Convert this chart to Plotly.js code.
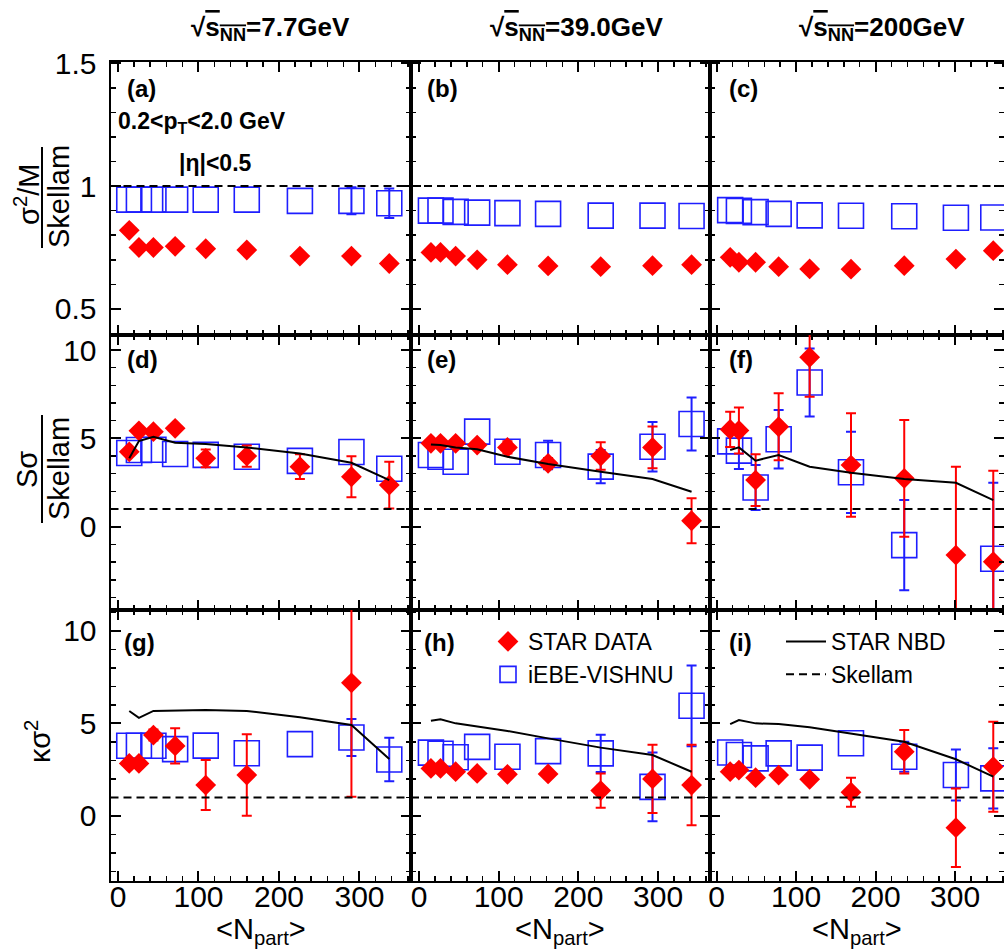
<!DOCTYPE html>
<html><head><meta charset="utf-8">
<script src="https://cdn.plot.ly/plotly-3.0.1.min.js"></script>
<style>html,body{margin:0;padding:0;background:#fff;} #chart{width:1004px;height:952px;}</style>
</head><body><div id="chart"></div>
<script>
// ---------------- DATA ----------------
const energyLabels = ['7.7', '39.0', '200'];
const panelLetters = ['a', 'b', 'c', 'd', 'e', 'f', 'g', 'h', 'i'];

// <Npart> per centrality bin
const npart_7p7 = [14, 26, 44, 71, 109, 160, 226, 290, 337];
const npart_39  = [15, 27, 46, 73, 111, 162, 228, 293, 342];
const npart_200 = [17, 28, 49, 78, 117, 169, 236, 301, 348];

// Skellam baseline
const skellamLevel = 1;

// Row 1: (sigma^2/M) / Skellam
const r1_star_7p7 = [0.82, 0.75, 0.75, 0.755, 0.745, 0.74, 0.715, 0.715, 0.685];
const r1_star_39  = [0.73, 0.73, 0.715, 0.70, 0.68, 0.675, 0.672, 0.676, 0.68];
const r1_star_200 = [0.71, 0.69, 0.69, 0.672, 0.663, 0.662, 0.676, 0.703, 0.737];
const r1_vishnu_7p7 = [0.945, 0.945, 0.945, 0.945, 0.945, 0.945, 0.94, 0.94, 0.93];
const r1_vishnu_39  = [0.90, 0.90, 0.895, 0.892, 0.89, 0.887, 0.88, 0.88, 0.878];
const r1_vishnu_200 = [0.902, 0.899, 0.894, 0.887, 0.881, 0.879, 0.877, 0.871, 0.872];
const r1_vishnu_err_7p7 = [null, null, null, null, null, null, null, 0.055, 0.06];

// Row 2: S sigma / Skellam
const r2_star_7p7 = [4.24, 5.43, 5.38, 5.57, 3.87, 4.0, 3.40, 2.83, 2.36];
const r2_star_err_7p7 = [null, null, null, null, 0.5, 0.6, 0.7, 1.16, 1.32];
const r2_star_39 = [4.72, 4.72, 4.72, 4.62, 4.49, 3.59, 4.0, 4.49, 0.34];
const r2_star_err_39 = [null, null, null, null, 0.35, 0.3, 0.78, 1.18, 1.27];
const r2_star_200 = [5.51, 5.45, 2.64, 5.66, 9.59, 3.49, 2.74, -1.60, -1.98];
const r2_star_err_200 = [1.0, 1.3, 1.46, 1.9, 2.23, 2.93, 3.3, 5.0, 5.15];
const r2_vishnu_7p7 = [4.17, 4.34, 4.36, 4.12, 4.07, 3.96, 3.73, 4.23, 3.28];
const r2_vishnu_39  = [4.06, 3.96, 3.68, 5.38, 4.24, 4.06, 3.40, 4.53, 5.81];
const r2_vishnu_err_39 = [null, null, null, null, null, 0.8, 0.94, 1.4, 1.5];
const r2_vishnu_200 = [4.83, 4.31, 2.22, 4.95, 8.16, 3.08, -1.04, null, -1.81];
const r2_vishnu_err_200 = [null, 1.04, 1.27, 1.65, 1.92, 2.3, 2.55, null, 4.3];
const r2_nbd_7p7 = [3.87, 4.85, 5.09, 4.75, 4.68, 4.49, 4.15, 3.62, 2.64];
const r2_nbd_39  = [4.66, 4.62, 4.49, 4.38, 3.96, 3.55, 3.11, 2.70, 1.98];
const r2_nbd_200 = [4.34, 4.49, 3.74, 4.06, 3.40, 3.06, 2.70, 2.49, 1.51];

// Row 3: kappa sigma^2
const r3_star_7p7 = [2.84, 2.84, 4.37, 3.78, 1.67, 2.21, null, 7.19, null];
const r3_star_err_7p7 = [null, null, 0.3, 0.95, 1.35, 2.2, null, 6.15, null];
const r3_star_39 = [2.57, 2.57, 2.39, 2.30, 2.25, 2.27, 1.37, 2.0, 1.67];
const r3_star_err_39 = [null, null, null, null, null, null, 0.92, 1.84, 2.17];
const r3_star_200 = [2.39, 2.48, 2.07, 2.21, 1.98, 1.28, 3.47, -0.63, 2.66];
const r3_star_err_200 = [null, null, null, null, null, 0.78, 1.17, 2.12, 2.43];
const r3_vishnu_7p7 = [3.79, 3.79, 3.79, 3.61, 3.80, 3.39, 3.88, 4.24, 3.05];
const r3_vishnu_err_7p7 = [null, null, null, null, null, null, null, 1.0, 1.18];
const r3_vishnu_39 = [3.42, 3.36, 3.17, 3.73, 3.20, 3.50, 3.38, 1.57, 5.95];
const r3_vishnu_err_39 = [null, null, null, null, null, null, 1.0, 1.86, 2.18];
const r3_vishnu_200 = [3.43, 3.29, 3.11, 3.38, 3.15, 3.93, 3.20, 2.21, 2.03];
const r3_vishnu_err_200 = [null, null, null, null, null, null, 0.81, 1.38, 1.63];
const r3_nbd_7p7 = [5.67, 5.30, 5.67, 5.69, 5.72, 5.67, 5.33, 4.91, 3.08];
const r3_nbd_39  = [5.14, 5.22, 5.00, 4.82, 4.59, 4.19, 3.69, 3.29, 2.39];
const r3_nbd_200 = [4.96, 5.18, 5.00, 4.96, 4.79, 4.46, 4.01, 3.06, 2.12];

// ---------------- ASSEMBLY ----------------
const npart = [npart_7p7, npart_39, npart_200];
const star = [[r1_star_7p7, r1_star_39, r1_star_200], [r2_star_7p7, r2_star_39, r2_star_200], [r3_star_7p7, r3_star_39, r3_star_200]];
const starErr = [[null, null, null], [r2_star_err_7p7, r2_star_err_39, r2_star_err_200], [r3_star_err_7p7, r3_star_err_39, r3_star_err_200]];
const vishnu = [[r1_vishnu_7p7, r1_vishnu_39, r1_vishnu_200], [r2_vishnu_7p7, r2_vishnu_39, r2_vishnu_200], [r3_vishnu_7p7, r3_vishnu_39, r3_vishnu_200]];
const vishnuErr = [[r1_vishnu_err_7p7, null, null], [null, r2_vishnu_err_39, r2_vishnu_err_200], [r3_vishnu_err_7p7, r3_vishnu_err_39, r3_vishnu_err_200]];
const nbd = [null, [r2_nbd_7p7, r2_nbd_39, r2_nbd_200], [r3_nbd_7p7, r3_nbd_39, r3_nbd_200]];

const FONT = 'Liberation Sans, Arial, Helvetica, sans-serif';
const W = 1004, H = 952;
const fx = p => p / W, fy = p => 1 - p / H;
const RED = '#ff0000', BLUE = 'rgb(30,30,255)';

const colPx = [[110.5, 411], [411, 709.5], [709.5, 1004]];
const rowPx = [[62, 335], [335, 610], [610, 881]];
const xRanges = [[-9.3, 364], [-10, 364.5], [-9, 361.5]];
const yRanges = [[0.394, 1.505], [-4.71, 10.85], [-3.51, 11.12]];
const yDtick = [0.5, 5, 5], yMinor = [0.1, 1, 1];

function errObj(arr, color) {
  if (!arr) return {visible: false};
  return {type: 'data', array: arr.map(v => v == null ? NaN : v), visible: true,
          color: color, thickness: 2, width: 5};
}

const traces = [];
const layout = {
  width: W, height: H, margin: {l: 0, r: 0, t: 0, b: 0, pad: 0},
  paper_bgcolor: '#fff', plot_bgcolor: 'rgba(0,0,0,0)',
  font: {family: FONT, color: '#000'},
  showlegend: true,
  legend: {x: fx(488), y: fy(620), xanchor: 'left', yanchor: 'top', bgcolor: 'rgba(0,0,0,0)',
           borderwidth: 0, font: {size: 23, family: FONT, color: '#000'}, tracegroupgap: 0, traceorder: 'normal'},
  legend2: {x: fx(781), y: fy(620), xanchor: 'left', yanchor: 'top', bgcolor: 'rgba(0,0,0,0)',
            borderwidth: 0, font: {size: 23, family: FONT, color: '#000'}, tracegroupgap: 0, itemwidth: 40, traceorder: 'normal'},
  shapes: [], annotations: []
};

const axisCommon = {
  showline: true, linecolor: '#000', linewidth: 2, mirror: 'allticks',
  ticks: 'inside', ticklen: 10, tickwidth: 2, tickcolor: '#000',
  showgrid: false, zeroline: false, fixedrange: true,
  tickfont: {size: 30, family: FONT, color: '#000'}
};

for (let r = 0; r < 3; r++) {
  for (let c = 0; c < 3; c++) {
    const k = r * 3 + c;
    const sfx = k === 0 ? '' : String(k + 1);
    const xa = 'x' + sfx, ya = 'y' + sfx;
    layout['xaxis' + sfx] = Object.assign({}, axisCommon, {
      domain: [fx(colPx[c][0]), fx(colPx[c][1])], range: xRanges[c], anchor: ya,
      tick0: 0, dtick: 100, showticklabels: r === 2, ticklabelstandoff: -12,
      minor: {ticks: 'inside', ticklen: 5, tickwidth: 1.5, tickcolor: '#000', dtick: 20, showgrid: false}
    });
    layout['yaxis' + sfx] = Object.assign({}, axisCommon, {
      domain: [fy(rowPx[r][1]), fy(rowPx[r][0])], range: yRanges[r], anchor: xa,
      tick0: 0, dtick: yDtick[r], showticklabels: c === 0, ticklabelstandoff: 6,
      minor: {ticks: 'inside', ticklen: 5, tickwidth: 1.5, tickcolor: '#000', dtick: yMinor[r], showgrid: false}
    });

    // Skellam baseline (dashed)
    layout.shapes.push({type: 'line', xref: xa + ' domain', x0: 0, x1: 1, yref: ya, y0: skellamLevel, y1: skellamLevel,
                        line: {color: '#000', width: 2, dash: '8px,5px'}, layer: 'above'});

    traces.push({type: 'scatter', mode: 'markers', name: 'iEBE-VISHNU', x: npart[c], y: vishnu[r][c],
      xaxis: xa, yaxis: ya, legend: 'legend', legendrank: 2, showlegend: k === 7,
      marker: {symbol: 'square-open', size: 25, color: BLUE, line: {width: 1.6, color: BLUE}},
      error_y: errObj(vishnuErr[r][c], BLUE), hoverinfo: 'skip'});
    traces.push({type: 'scatter', mode: 'markers', name: 'STAR DATA', x: npart[c], y: star[r][c],
      xaxis: xa, yaxis: ya, legend: 'legend', legendrank: 1, showlegend: k === 7,
      marker: {symbol: 'diamond', size: 16, color: RED, line: {width: 0}},
      error_y: errObj(starErr[r][c], RED), hoverinfo: 'skip'});
    if (nbd[r]) {
      traces.push({type: 'scatter', mode: 'lines', name: 'STAR NBD', x: npart[c], y: nbd[r][c],
        xaxis: xa, yaxis: ya, legend: 'legend2', legendrank: 1, showlegend: k === 8,
        line: {color: '#000', width: 2}, hoverinfo: 'skip'});
    }

    // panel label
    const labX = [125, 425, 727][c] - (r === 2 && c < 2 ? 3 : 0);
    const labY = [88, 359, 642][r];
    layout.annotations.push({xref: 'paper', yref: 'paper', x: fx(labX), y: fy(labY), xanchor: 'left', yanchor: 'middle',
      text: '<b>(' + panelLetters[k] + ')</b>', showarrow: false, font: {size: 24, family: FONT, color: '#000'}});
  }
}
// legend entry for the Skellam baseline
traces.push({type: 'scatter', mode: 'lines', name: 'Skellam', x: [null], y: [null], xaxis: 'x9', yaxis: 'y9',
  legend: 'legend2', legendrank: 2, showlegend: true, line: {color: '#000', width: 2, dash: '8px,5px'}, hoverinfo: 'skip'});

// column titles
const titleX = [270, 577, 882];
for (let c = 0; c < 3; c++) {
  layout.annotations.push({xref: 'paper', yref: 'paper', x: fx(titleX[c]), y: fy(28), xanchor: 'center', yanchor: 'middle',
    text: "<b>√<span style='text-decoration:overline'>s<sub>NN</sub></span>=" + energyLabels[c] + 'GeV</b>',
    showarrow: false, font: {size: 26, family: FONT, color: '#000'}});
  // x titles
  layout.annotations.push({xref: 'paper', yref: 'paper', x: fx((colPx[c][0] + colPx[c][1]) / 2), y: fy(931), xanchor: 'center', yanchor: 'middle',
    text: '&lt;N<sub>part</sub>&gt;', showarrow: false, font: {size: 29, family: FONT, color: '#000'}});
}
// cut text in panel (a)
layout.annotations.push({xref: 'paper', yref: 'paper', x: fx(116), y: fy(123), xanchor: 'left', yanchor: 'middle',
  text: '<b>0.2&lt;p<sub>T</sub>&lt;2.0 GeV</b>', showarrow: false, font: {size: 23, family: FONT, color: '#000'}});
layout.annotations.push({xref: 'paper', yref: 'paper', x: fx(215), y: fy(163), xanchor: 'center', yanchor: 'middle',
  text: '<b>|η|&lt;0.5</b>', showarrow: false, font: {size: 23, family: FONT, color: '#000'}});

// y titles (fractions)
const yt = (txt, x, y) => layout.annotations.push({xref: 'paper', yref: 'paper', x: fx(x), y: fy(y), xanchor: 'center', yanchor: 'middle',
  text: txt, textangle: -90, showarrow: false, font: {size: 29, family: FONT, color: '#000'}});
yt('σ<sup>2</sup>/M', 27, 195);
yt('Skellam', 59, 197);
yt('Sσ', 27, 470);
yt('Skellam', 59, 469);
yt('κσ<sup>2</sup>', 38, 742);
layout.shapes.push({type: 'line', xref: 'paper', yref: 'paper', x0: fx(42), x1: fx(42), y0: fy(147), y1: fy(248), line: {color: '#000', width: 2}});
layout.shapes.push({type: 'line', xref: 'paper', yref: 'paper', x0: fx(42), x1: fx(42), y0: fy(415), y1: fy(523), line: {color: '#000', width: 2}});

Plotly.newPlot('chart', traces, layout, {displayModeBar: false, staticPlot: true});
</script>
</body></html>
